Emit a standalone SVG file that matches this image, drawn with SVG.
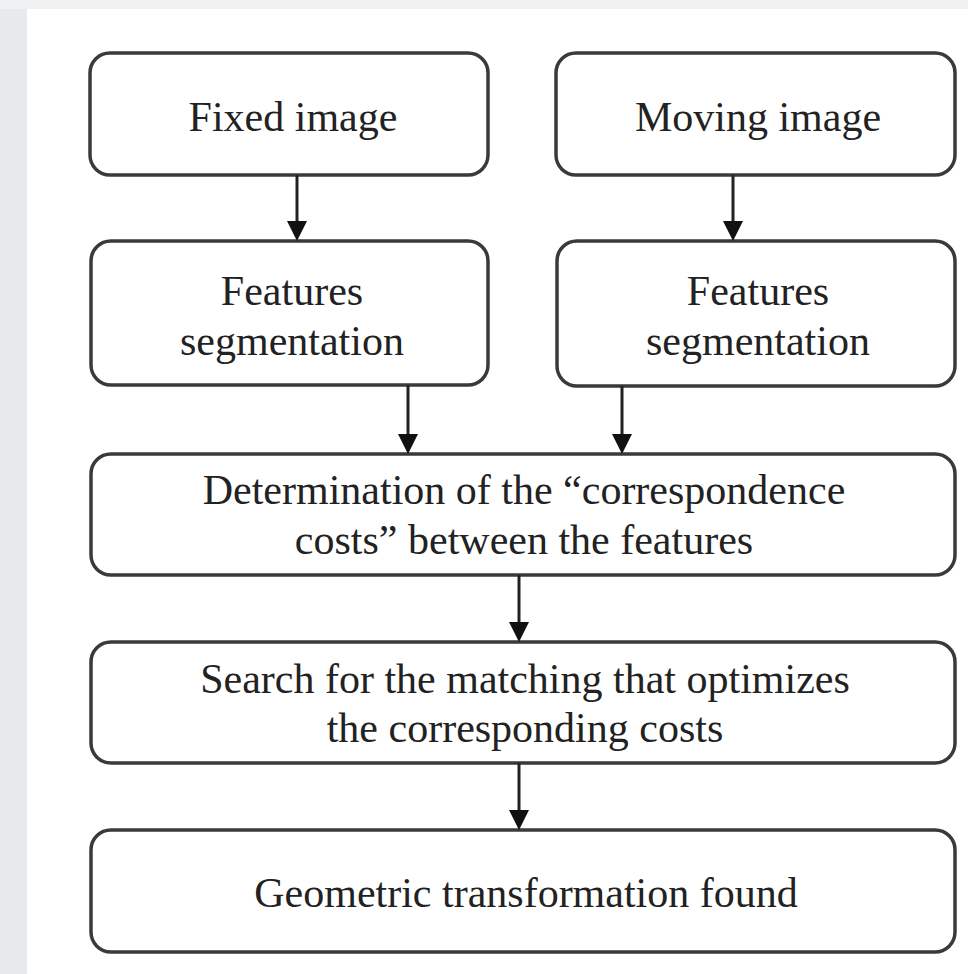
<svg xmlns="http://www.w3.org/2000/svg" width="968" height="974" viewBox="0 0 968 974">
<defs>
<style>
.box{fill:#ffffff;stroke:#3a3a3a;stroke-width:3.5}
.lbl{font-family:"Liberation Serif","Times New Roman",serif;font-size:42px;fill:#222;text-anchor:middle}
.con{stroke:#222;stroke-width:3;fill:none}
.head{fill:#111}
</style>
</defs>
<rect x="0" y="0" width="968" height="974" fill="#eef0f2"/>
<rect x="0" y="9" width="27" height="965" fill="#e6eaed"/>
<rect x="27" y="9" width="941" height="965" fill="#ffffff"/>

<g id="fixed">
<rect class="box" x="90" y="53" width="398" height="122" rx="20"/>
<text class="lbl" x="293" y="131">Fixed image</text>
</g>
<g id="moving">
<rect class="box" x="556" y="53" width="399" height="122" rx="20"/>
<text class="lbl" x="758" y="131">Moving image</text>
</g>
<g id="feat1">
<rect class="box" x="91" y="241" width="397" height="144" rx="20"/>
<text class="lbl" x="292" y="305">Features</text>
<text class="lbl" x="292" y="355">segmentation</text>
</g>
<g id="feat2">
<rect class="box" x="557" y="241" width="398" height="145" rx="20"/>
<text class="lbl" x="758" y="305">Features</text>
<text class="lbl" x="758" y="355">segmentation</text>
</g>
<g id="determ">
<rect class="box" x="91" y="454" width="864" height="121" rx="20"/>
<text class="lbl" x="524" y="504">Determination of the “correspondence</text>
<text class="lbl" x="524" y="554">costs” between the features</text>
</g>
<g id="search">
<rect class="box" x="91" y="642" width="864" height="121" rx="20"/>
<text class="lbl" x="525" y="693">Search for the matching that optimizes</text>
<text class="lbl" x="525" y="742">the corresponding costs</text>
</g>
<g id="geom">
<rect class="box" x="91" y="830" width="864" height="122" rx="20"/>
<text class="lbl" x="526" y="907">Geometric transformation found</text>
</g>

<g id="connectors">
<line class="con" x1="297" y1="175" x2="297" y2="225"/>
<polygon class="head" points="287,221 307,221 297,241"/>
<line class="con" x1="733" y1="175" x2="733" y2="225"/>
<polygon class="head" points="723,221 743,221 733,241"/>
<line class="con" x1="408" y1="385" x2="408" y2="438"/>
<polygon class="head" points="398,434 418,434 408,454"/>
<line class="con" x1="622" y1="386" x2="622" y2="438"/>
<polygon class="head" points="612,434 632,434 622,454"/>
<line class="con" x1="519" y1="575" x2="519" y2="626"/>
<polygon class="head" points="509,622 529,622 519,642"/>
<line class="con" x1="519" y1="763" x2="519" y2="814"/>
<polygon class="head" points="509,810 529,810 519,830"/>
</g>
</svg>
